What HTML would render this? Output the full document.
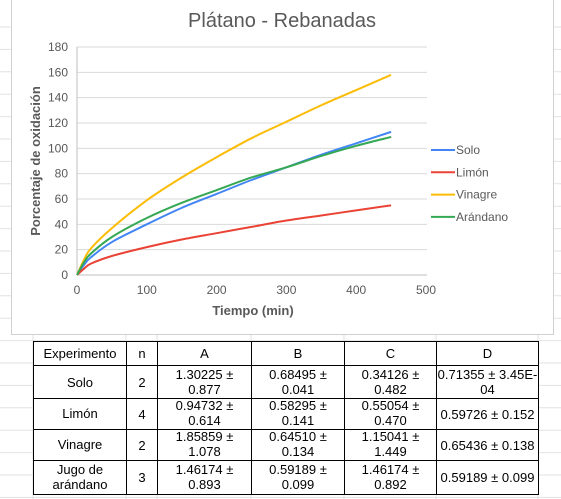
<!DOCTYPE html>
<html><head><meta charset="utf-8"><style>
body{margin:0;width:561px;height:499px;overflow:hidden;background:#fff;font-family:"Liberation Sans",sans-serif;position:relative}
#sheet{position:absolute;left:0;top:0}
#box{position:absolute;left:11px;top:-1px;width:541px;height:334px;background:#fff;border:1px solid #d0d0d0}
#chart{position:absolute;left:0;top:0}
table{position:absolute;left:33px;top:341px;border-collapse:collapse;font-size:13px;color:#000;table-layout:fixed;background:#fff}
td{border:1px solid #000;text-align:center;padding:0;line-height:15px;overflow:hidden;box-sizing:border-box}
td div{overflow:hidden}
</style></head><body>
<svg id="sheet" width="561" height="499"></svg>
<div id="box"></div>
<svg id="chart" width="561" height="340"></svg>
<table>
<tr><td style="width:93px"><div style="height:23px;line-height:23px">Experimento</div></td><td style="width:31px"><div style="height:23px;line-height:23px">n</div></td><td style="width:94px"><div style="height:23px;line-height:23px">A</div></td><td style="width:93px"><div style="height:23px;line-height:23px">B</div></td><td style="width:92px"><div style="height:23px;line-height:23px">C</div></td><td style="width:102px"><div style="height:23px;line-height:23px">D</div></td></tr>
<tr><td><div style="height:31px;line-height:31px">Solo</div></td><td>2</td><td><div style="height:31px;padding-top:1px">1.30225 ±<br>0.877</div></td><td><div style="height:31px;padding-top:1px">0.68495 ±<br>0.041</div></td><td><div style="height:31px;padding-top:1px">0.34126 ±<br>0.482</div></td><td><div style="height:31px;padding-top:1px">0.71355 ± 3.45E-<br>04</div></td></tr>
<tr><td><div style="height:30px;line-height:30px">Limón</div></td><td>4</td><td><div style="height:30px;margin-top:-3px">0.94732 ±<br>0.614</div></td><td><div style="height:30px;margin-top:-3px">0.58295 ±<br>0.141</div></td><td><div style="height:30px;margin-top:-3px">0.55054 ±<br>0.470</div></td><td>0.59726 ± 0.152</td></tr>
<tr><td><div style="height:30px;line-height:30px">Vinagre</div></td><td>2</td><td><div style="height:30px;margin-top:-3px">1.85859 ±<br>1.078</div></td><td><div style="height:30px;margin-top:-3px">0.64510 ±<br>0.134</div></td><td><div style="height:30px;margin-top:-3px">1.15041 ±<br>1.449</div></td><td>0.65436 ± 0.138</td></tr>
<tr><td><div style="height:32px;padding-top:1px">Jugo de<br>arándano</div></td><td>3</td><td><div style="height:32px;padding-top:1px">1.46174 ±<br>0.893</div></td><td><div style="height:32px;padding-top:1px">0.59189 ±<br>0.099</div></td><td><div style="height:32px;padding-top:1px">1.46174 ±<br>0.892</div></td><td>0.59189 ± 0.099</td></tr>
</table>
<script>
const times=[0,10,20,50,100,150,200,250,300,350,400,450];
const solo=[0,8,14,26,40,53,64,75,85,95,104,113];
const limon=[0,5,9,15,22,28,33,38,43,47,51,55];
const vinagre=[0,12,21,37,59,77,93,108,121,134,146,158];
const arandano=[0,10,17,30,45,57,67,77,85,94,102,109];
const xTicks=[0,100,200,300,400,500];
const yTicks=[0,20,40,60,80,100,120,140,160,180];
const seriesNames=['Solo','Limón','Vinagre','Arándano'];
const colors=['#4285f4','#ea4335','#fbbc04','#34a853'];
const NS='http://www.w3.org/2000/svg';
function mk(p,t,a){const e=document.createElementNS(NS,t);for(const k in a)e.setAttribute(k,a[k]);p.appendChild(e);return e;}
const sh=document.getElementById('sheet');
for(let y=27;y<499;y+=22.4){const l=mk(sh,'line',{x1:0,x2:561,y1:y,y2:y,stroke:'#e2e2e2'});}
[33,126,157,251,344,436,538].forEach(x=>{const l=mk(sh,'line',{x1:x,x2:x,y1:0,y2:499,stroke:'#e2e2e2'});});
const s=document.getElementById('chart');
const X=v=>77+v*(426-77)/500, Y=v=>275-v*(275-47)/180;
const t=mk(s,'text',{x:282,y:27,'text-anchor':'middle','font-size':20,fill:'#595959'});t.textContent='Plátano - Rebanadas';

yTicks.forEach(v=>{const l=mk(s,'line',{x1:77,x2:427,y1:Y(v),y2:Y(v),stroke:v==0?'#bfbfbf':'#d9d9d9'});
const tx=mk(s,'text',{x:68,y:Y(v)+4,'text-anchor':'end','font-size':12,fill:'#595959'});tx.textContent=v;});
mk(s,'line',{x1:77,x2:77,y1:47,y2:275,stroke:'#bfbfbf'});
xTicks.forEach(v=>{const tx=mk(s,'text',{x:X(v),y:294,'text-anchor':'middle','font-size':12,fill:'#595959'});tx.textContent=v;});
const xt=mk(s,'text',{x:253,y:315,'text-anchor':'middle','font-size':13,fill:'#595959','font-weight':'bold'});xt.textContent='Tiempo (min)';
const yt=mk(s,'text',{x:0,y:0,'text-anchor':'middle','font-size':13,fill:'#595959','font-weight':'bold',transform:'translate(40,161) rotate(-90)'});yt.textContent='Porcentaje de oxidación';
function pathD(vals){const p=times.map((tt,i)=>[X(tt),Y(vals[i])]);let d='M'+p[0];for(let i=0;i<p.length-1;i++){const p0=p[i-1]||p[i],p1=p[i],p2=p[i+1],p3=p[i+2]||p2;
d+=' C'+(p1[0]+(p2[0]-p0[0])/6)+','+(p1[1]+(p2[1]-p0[1])/6)+' '+(p2[0]-(p3[0]-p1[0])/6)+','+(p2[1]-(p3[1]-p1[1])/6)+' '+p2;}return d;}
[solo,limon,vinagre,arandano].forEach((vals,i)=>{const p=mk(s,'path',{d:pathD(vals),fill:'none',stroke:colors[i],'stroke-width':2});
const ly=150+i*22.3;const l=mk(s,'line',{x1:431,x2:455,y1:ly,y2:ly,stroke:colors[i],'stroke-width':2});
const tx=mk(s,'text',{x:456,y:ly+4,'font-size':12,fill:'#595959'});tx.textContent=seriesNames[i];});
</script>
</body></html>
